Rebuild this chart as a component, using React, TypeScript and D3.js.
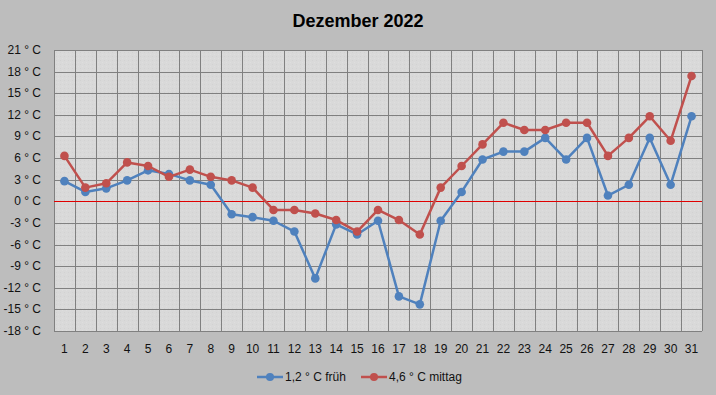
import React from "react";
import * as d3 from "d3";

// Werte
const days = d3.range(1, 32).map(String);
const frueh = [2.8, 1.3, 1.8, 2.9, 4.3, 3.8, 2.9, 2.3, -1.8, -2.2, -2.7, -4.2, -10.7, -3.2, -4.6, -2.7, -13.2, -14.3, -2.7, 1.3, 5.8, 6.9, 6.9, 8.8, 5.8, 8.8, 0.8, 2.3, 8.8, 2.3, 11.8];
const mittag = [6.3, 1.9, 2.5, 5.4, 4.9, 3.4, 4.4, 3.4, 2.9, 1.9, -1.2, -1.2, -1.7, -2.6, -4.2, -1.2, -2.6, -4.6, 1.9, 4.9, 7.9, 10.9, 9.9, 9.9, 10.9, 10.9, 6.3, 8.8, 11.8, 8.4, 17.4];
const yTicks = [21, 18, 15, 12, 9, 6, 3, 0, -3, -6, -9, -12, -15, -18];
const seriesNames = ["1,2 ° C früh", "4,6 ° C mittag"];
const colors = ["#4F81BD", "#C0504D"];

const width = 716;
const height = 395;
const left = 54;
const right = 702;
const top = 50;
const bottom = 331;
const font = "'Liberation Sans', Arial, sans-serif";

const App = () => {
  const x = d3.scaleBand().domain(days).range([left, right]);
  const y = d3.scaleLinear().domain([-18, 21]).range([bottom, top]);
  const cx = (d: string) => (x(d) as number) + x.bandwidth() / 2;

  const line = d3
    .line<number>()
    .x((_, i) => cx(days[i]))
    .y((v) => y(v));

  const series = [frueh, mittag];

  return (
    <svg width={width} height={height} style={{ position: "absolute", left: 0, top: 0 }}>
      <defs>
        <pattern id="tex" width="4" height="4" patternUnits="userSpaceOnUse">
          <rect width="4" height="4" fill="#D9D9D9" />
          <rect x="0" y="0" width="1" height="1" fill="#D2D2D2" />
          <rect x="2" y="2" width="1" height="1" fill="#DEDEDE" />
        </pattern>
      </defs>
      <rect width={width} height={height} fill="#BDBDBD" />
      <text x={358} y={27} textAnchor="middle" fontFamily={font} fontWeight="bold" fontSize={18} fill="#000">
        Dezember 2022
      </text>

      <rect x={left} y={top} width={right - left} height={bottom - top} fill="url(#tex)" />

      {/* Gitter */}
      <g shapeRendering="crispEdges">
        {yTicks.map((t) => (
          <line key={"h" + t} x1={left} x2={right} y1={Math.round(y(t)) + 0.5} y2={Math.round(y(t)) + 0.5} stroke="#808080" />
        ))}
        {days.map((d) => (
          <line key={"v" + d} x1={Math.round(x(d) as number) + 0.5} x2={Math.round(x(d) as number) + 0.5} y1={top} y2={bottom} stroke="#808080" />
        ))}
        <line x1={right + 0.5} x2={right + 0.5} y1={top} y2={bottom} stroke="#808080" />
        <line x1={left} x2={right} y1={Math.round(y(0)) + 0.5} y2={Math.round(y(0)) + 0.5} stroke="#E00000" />
      </g>

      {/* Achsenbeschriftung */}
      {yTicks.map((t) => (
        <text key={"yl" + t} x={41} y={y(t) + 4} textAnchor="end" fontFamily={font} fontSize={12} fill="#111">
          {t} ° C
        </text>
      ))}
      {days.map((d) => (
        <text key={"xl" + d} x={cx(d)} y={353} textAnchor="middle" fontFamily={font} fontSize={12} fill="#111">
          {d}
        </text>
      ))}

      {/* Linien */}
      {series.map((s, i) => (
        <g key={"s" + i}>
          <path d={line(s) as string} fill="none" stroke={colors[i]} strokeWidth={2.5} strokeLinejoin="round" />
          {s.map((v, j) => (
            <circle key={j} cx={cx(days[j])} cy={y(v)} r={4.3} fill={colors[i]} />
          ))}
        </g>
      ))}

      {/* Legende */}
      {seriesNames.map((n, i) => {
        const lx = i === 0 ? 257 : 361;
        return (
          <g key={"lg" + i}>
            <line x1={lx} x2={lx + 26} y1={377} y2={377} stroke={colors[i]} strokeWidth={2.5} />
            <circle cx={lx + 13} cy={377} r={4} fill={colors[i]} />
            <text x={lx + 28} y={381} fontFamily={font} fontSize={12} fill="#111">
              {n}
            </text>
          </g>
        );
      })}
    </svg>
  );
};

export default App;
